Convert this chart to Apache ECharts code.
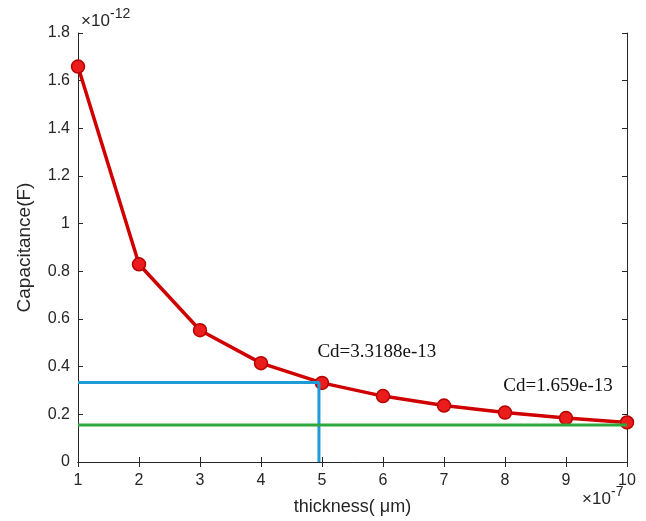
<!DOCTYPE html>
<html><head><meta charset="utf-8">
<script src="https://cdn.jsdelivr.net/npm/echarts@6/dist/echarts.min.js"></script>
<style>html,body{margin:0;padding:0;background:#fff}#c{width:646px;height:521px}</style>
</head><body><div id="c"></div>
<script>
const thickness = [1,2,3,4,5,6,7,8,9,10];
const capacitance = [1.659,0.8295,0.553,0.4148,0.3319,0.2765,0.237,0.2074,0.1843,0.1659];
const blueLine = [[1,0.334],[4.95,0.334],[4.95,0]];
const greenLine = [[1,0.155],[10,0.155]];
const notes = [
  {text:'Cd=3.3188e-13', x:5.9, y:0.46},
  {text:'Cd=1.659e-13', x:8.87, y:0.32}
];
const xTicks = {min:1, max:10, interval:1};
const yTicks = {min:0, max:1.8, interval:0.2};

const chart = echarts.init(document.getElementById('c'));
const axisCol = '#262626';
const font = 'Liberation Sans, Arial, sans-serif';
const baseAxis = {
  type:'value', splitLine:{show:false},
  axisLine:{show:true, lineStyle:{color:axisCol, width:1}},
  axisTick:{show:true, inside:true, length:5, lineStyle:{color:axisCol}},
};
const mainTxt = {fontSize:17, fontFamily:font, fill:axisCol};
const supTxt = {fontSize:14, fontFamily:font, fill:axisCol};
chart.setOption({
  animation:false,
  backgroundColor:'#fff',
  grid:{left:78, right:19, top:33, bottom:58, containLabel:false},
  xAxis:[
    Object.assign({}, baseAxis, {min:xTicks.min, max:xTicks.max, interval:xTicks.interval, position:'bottom',
      axisLabel:{color:axisCol, fontSize:16, fontFamily:font, margin:11},
      name:'thickness( \u03bcm)', nameLocation:'middle', nameGap:36,
      nameTextStyle:{color:axisCol, fontSize:18, fontFamily:font}}),
    Object.assign({}, baseAxis, {min:xTicks.min, max:xTicks.max, interval:xTicks.interval, position:'top', axisLabel:{show:false}})
  ],
  yAxis:[
    Object.assign({}, baseAxis, {min:yTicks.min, max:yTicks.max, interval:yTicks.interval, position:'left',
      axisLabel:{color:axisCol, fontSize:16, fontFamily:font, margin:8},
      name:'Capacitance(F)', nameLocation:'middle', nameGap:44,
      nameTextStyle:{color:axisCol, fontSize:19, fontFamily:font}}),
    Object.assign({}, baseAxis, {min:yTicks.min, max:yTicks.max, interval:yTicks.interval, position:'right', axisLabel:{show:false}})
  ],
  graphic:[
    {type:'text', left:81, top:13, style:Object.assign({text:'\u00d710'}, mainTxt)},
    {type:'text', left:110, top:7, style:Object.assign({text:'-12'}, supTxt)},
    {type:'text', left:582, top:491, style:Object.assign({text:'\u00d710'}, mainTxt)},
    {type:'text', left:611, top:485, style:Object.assign({text:'-7'}, supTxt)}
  ],
  series:[
    {type:'line', data:thickness.map((x,i)=>[x,capacitance[i]]), z:3,
      lineStyle:{color:'#d00000', width:3.5},
      symbol:'circle', symbolSize:13,
      itemStyle:{color:'#ea1c1c', borderColor:'#b80000', borderWidth:1.5}},
    {type:'line', data:blueLine, z:4, symbol:'none', lineStyle:{color:'#1f9bd7', width:3}},
    {type:'line', data:greenLine, z:4, symbol:'none', lineStyle:{color:'#2ea83c', width:3},
      markPoint:{symbol:'circle', symbolSize:0, data:notes.map(n=>({coord:[n.x,n.y], value:n.text,
        label:{show:true, formatter:n.text, color:'#111', fontSize:19, fontFamily:'Liberation Serif, Times New Roman, serif', position:'inside'}}))}}
  ]
});
</script></body></html>
